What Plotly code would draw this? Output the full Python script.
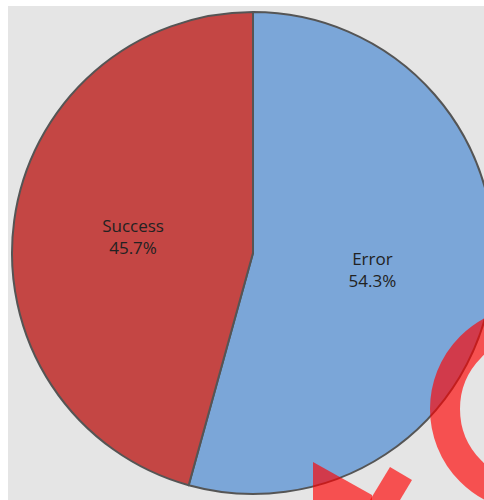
import plotly.graph_objects as go

labels = ["Error", "Success"]
values = [54.3, 45.7]
colors = ["#7BA6D8", "#C44644"]

W, H = 490, 494
OX, OY = 8, 6  # page offset of the figure

def px(x):
    return (x - OX) / W

def py(y):
    return 1 - (y - OY) / H

fig = go.Figure()
fig.add_trace(go.Pie(
    labels=labels,
    values=values,
    sort=False,
    direction="clockwise",
    rotation=0,
    marker=dict(colors=colors, line=dict(color="#555555", width=2)),
    textinfo="label+percent",
    textposition="inside",
    insidetextorientation="horizontal",
    textfont=dict(family="Open Sans, sans-serif", size=17, color="#222222"),
    showlegend=False,
    hoverinfo="label+percent",
    domain=dict(x=[px(12), px(494)], y=[py(494), py(12)]),
))

wm = "rgba(255,0,0,0.65)"
# watermark ring
fig.add_shape(type="circle", xref="paper", yref="paper",
              x0=px(533 - 88), x1=px(533 + 88), y0=py(409 + 88), y1=py(409 - 88),
              line=dict(color=wm, width=30), fillcolor="rgba(0,0,0,0)")

def path(pts):
    return "M " + " L ".join(f"{px(x)},{py(y)}" for x, y in pts) + " Z"

fig.add_shape(type="path", xref="paper", yref="paper",
              path=path([(313, 462), (372, 495), (372, 510), (313, 510)]),
              fillcolor=wm, line=dict(width=0))
fig.add_shape(type="path", xref="paper", yref="paper",
              path=path([(390, 467), (412, 480), (397, 505), (367, 505)]),
              fillcolor=wm, line=dict(width=0))

fig.update_layout(
    width=W, height=H,
    margin=dict(l=0, r=0, t=0, b=0),
    paper_bgcolor="#e5e5e5",
    plot_bgcolor="#e5e5e5",
)

fig.write_html(
    "out.html",
    post_script=(
        "document.body.style.margin='6px 0 0 8px';"
        "document.body.style.overflow='hidden';"
        "document.documentElement.style.overflow='hidden';"
    ),
)
